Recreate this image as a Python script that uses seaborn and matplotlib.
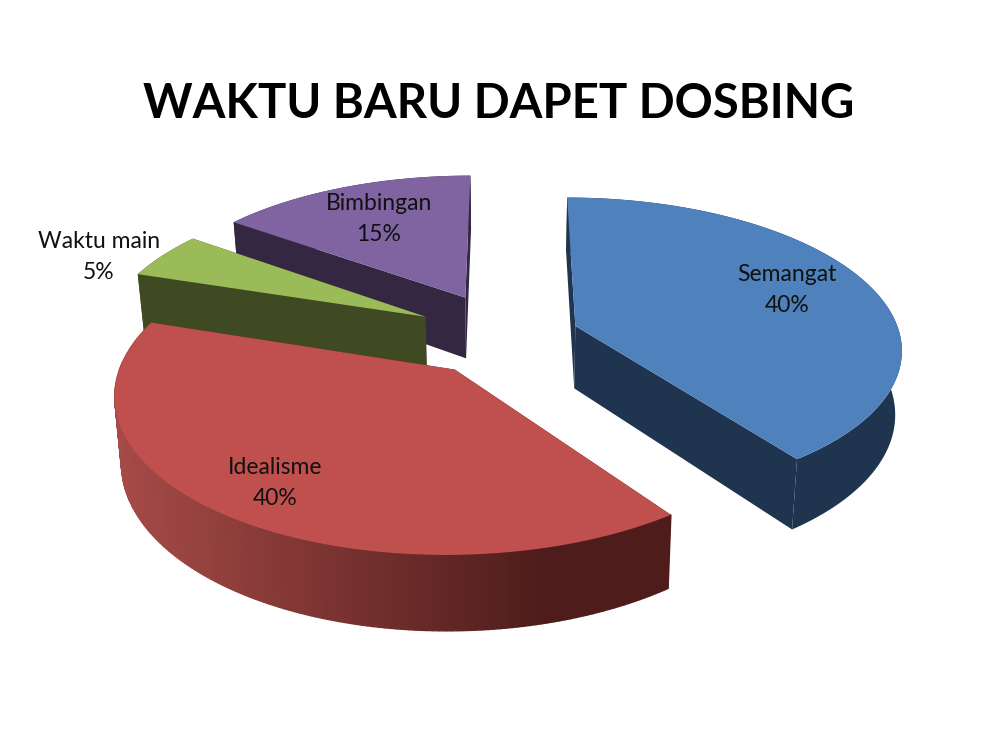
import numpy as np
import pandas as pd
import seaborn as sns
import matplotlib.pyplot as plt
from matplotlib.colors import LinearSegmentedColormap

# Chart data
categories = ['Semangat', 'Idealisme', 'Waktu main', 'Bimbingan']
shares = [40, 40, 5, 15]
title = 'WAKTU BARU DAPET DOSBING'

# Look of each slice
top_colors = ['#4f81bd', '#c0504d', '#9bbb59', '#8064a2']
wall_colors = ['#1f354f', '#4e1d1b', '#3f4a22', '#332742']
explode = [0.22, 0.27, 0.29, 0.30]
label_xy = [(787, 290), (275, 483), (99, 257), (379, 219)]

# Projection of the tilted disc on to the picture
cx, cy = 508, 336
rx, ry = 325, 149
persp = 0.14
depth = 63
taper = 0.00027  # walls lean in slightly towards the bottom

df = pd.DataFrame({'category': categories, 'share': shares,
                   'top': top_colors, 'wall': wall_colors,
                   'explode': explode})
df['start'] = df['share'].cumsum().shift(fill_value=0) / df['share'].sum() * 2 * np.pi
df['end'] = df['share'].cumsum() / df['share'].sum() * 2 * np.pi


def project(X, Y, drop=0.0):
    s = 1 / (1 + persp * Y)
    return cx + rx * X * s * (1 - taper * drop), cy - ry * Y * s + drop * s


sns.set_theme(style='white')
plt.rcParams['font.family'] = ['Lato', 'DejaVu Sans']

fig = plt.figure(figsize=(10, 7.5), dpi=100, facecolor='white')
ax = fig.add_axes([0, 0, 1, 1])
ax.set_xlim(0, 1000)
ax.set_ylim(750, 0)
ax.axis('off')

red_wall = LinearSegmentedColormap.from_list('red_wall', ['#a64b48', '#7c3432', '#4e1d1b'])

# Back slices first so the front ones sit on top of them
for i in [3, 2, 1, 0]:
    row = df.iloc[i]
    mid = (row['start'] + row['end']) / 2
    ox, oy = row['explode'] * np.sin(mid), row['explode'] * np.cos(mid)
    t = np.linspace(row['start'], row['end'], 160)
    X = ox + np.sin(t)
    Y = oy + np.cos(t)

    # flat sides
    for edge in [0, -1]:
        px, py = project(np.array([ox, X[edge]]), np.array([oy, Y[edge]]))
        qx, qy = project(np.array([ox, X[edge]]), np.array([oy, Y[edge]]), depth)
        ax.fill(np.r_[px, qx[::-1]], np.r_[py, qy[::-1]], color=row['wall'], lw=0)

    # rim, only the red one is shaded along its length
    px, py = project(X, Y)
    qx, qy = project(X, Y, depth)
    if row['category'] == 'Idealisme':
        for j in range(len(t) - 1):
            col = red_wall(np.clip((px[j] - 112) / 430, 0, 1))
            ax.fill([px[j], px[j + 1], qx[j + 1], qx[j]],
                    [py[j], py[j + 1], qy[j + 1], qy[j]], color=col, lw=1)
    else:
        ax.fill(np.r_[px, qx[::-1]], np.r_[py, qy[::-1]], color=row['wall'], lw=0)

    # top face
    ax0, ay0 = project(np.array([ox]), np.array([oy]))
    ax.fill(np.r_[ax0, px], np.r_[ay0, py], color=row['top'], lw=0)

for (x, y), name, share in zip(label_xy, categories, shares):
    ax.text(x, y, f'{name}\n{share}%', ha='center', va='center',
            fontsize=16.5, color='#111111', linespacing=1.6)

ax.text(499, 104, title, ha='center', va='center', fontsize=34,
        fontweight='bold', color='black')

fig.savefig('out.png', dpi=100)
